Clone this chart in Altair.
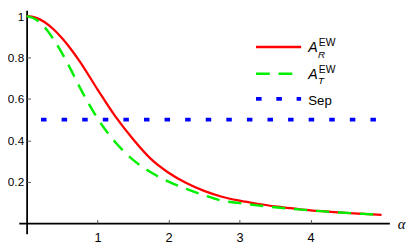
import altair as alt
import pandas as pd

# ---- data ----
alpha = [0, 0.125, 0.25, 0.375, 0.5, 0.625, 0.75, 1.0, 1.25, 1.5, 1.75, 2.0, 2.25, 2.5,
         2.75, 3.0, 3.25, 3.5, 3.75, 4.0, 4.25, 4.5, 4.75, 5.0]
a_r = [1.0, 0.993, 0.972, 0.938, 0.893, 0.84, 0.78, 0.645, 0.515, 0.405, 0.31, 0.243,
       0.193, 0.155, 0.127, 0.108, 0.093, 0.080, 0.0705, 0.061, 0.055, 0.049, 0.044, 0.039]
a_t = [1.0, 0.985, 0.948, 0.89, 0.82, 0.74, 0.655, 0.505, 0.39, 0.305, 0.245, 0.2,
       0.165, 0.134, 0.108, 0.096, 0.085, 0.076, 0.068, 0.061, 0.054, 0.049, 0.044, 0.039]
sep_alpha = [0, 5]
sep_value = [0.5, 0.5]

x_ticks = [1, 2, 3, 4]
y_ticks = [0.2, 0.4, 0.6, 0.8, 1.0]

df_r = pd.DataFrame({"alpha": alpha, "v": a_r})
df_t = pd.DataFrame({"alpha": alpha, "v": a_t})
df_s = pd.DataFrame({"alpha": sep_alpha, "v": sep_value})
one = pd.DataFrame({"k": [0]})

RED, GREEN, BLUE = "#ff0000", "#00f000", "#0000ff"
SANS = "Liberation Sans"

x_scale = alt.Scale(domain=[-0.1105, 5.110], nice=False, zero=False)
y_scale = alt.Scale(domain=[-0.0526, 1.028], nice=False, zero=False)

x_main = alt.Axis(orient="bottom", offset=-11, values=x_ticks, grid=False, ticks=False,
                  domainColor="black", domainWidth=1.8, labelFontSize=13, labelFont=SANS,
                  labelColor="black", labelPadding=9,
                  title="α", titleFont="Liberation Serif", titleFontStyle="italic",
                  titleFontWeight="normal", titleFontSize=15, titleColor="black",
                  titleX=386, titleY=1, titleAlign="left", titleBaseline="middle")
y_main = alt.Axis(orient="left", offset=-8, values=y_ticks, format=".1~f", grid=False,
                  ticks=False, domainColor="black", domainWidth=1.8, labelFontSize=12,
                  labelFont=SANS, labelColor="black", labelPadding=3, title=None)
x_tick = alt.Axis(orient="top", offset=-216.9, values=x_ticks, grid=False, domain=False,
                  labels=False, ticks=True, tickSize=3.5, tickColor="#555555",
                  tickWidth=1, title=None)
y_tick = alt.Axis(orient="right", offset=-370, values=y_ticks, grid=False, domain=False,
                  labels=False, ticks=True, tickSize=4, tickColor="#555555",
                  tickWidth=1, title=None)

red = alt.Chart(df_r).mark_line(color=RED, strokeWidth=2.3, interpolate="monotone").encode(
    x=alt.X("alpha:Q", scale=x_scale, axis=x_main),
    y=alt.Y("v:Q", scale=y_scale, axis=y_main),
)
green = alt.Chart(df_t).mark_line(color=GREEN, strokeWidth=2.5, strokeDash=[13.5, 9],
                                  interpolate="monotone").encode(
    x=alt.X("alpha:Q", scale=x_scale, axis=None),
    y=alt.Y("v:Q", scale=y_scale, axis=None),
)
sep = alt.Chart(df_s).mark_line(color=BLUE, strokeWidth=3.8, strokeDash=[5.6, 15.4],
                                strokeDashOffset=6.3).encode(
    x=alt.X("alpha:Q", scale=x_scale, axis=x_tick),
    y=alt.Y("v:Q", scale=y_scale, axis=y_tick),
)

# ---- legend (decoration, in pixel layout) ----
LX0, LX1, TX = 242, 288, 295.3


def leg_line(y, color, width, dash=None):
    kw = dict(color=color, strokeWidth=width)
    if dash:
        kw["strokeDash"] = dash
    return alt.Chart(one).mark_rule(**kw).encode(
        x=alt.value(LX0), x2=alt.value(LX1), y=alt.value(y))


def leg_text(txt, x, y, size, italic=False):
    kw = dict(text=txt, font=SANS, fontSize=size, align="left", baseline="alphabetic",
              color="black")
    if italic:
        kw["fontStyle"] = "italic"
    return alt.Chart(one).mark_text(**kw).encode(x=alt.value(x), y=alt.value(y))


legend_layers = []
for ly, sub, color, width, dash in [(37.3, "R", RED, 2.6, None), (64.7, "T", GREEN, 2.6, [14, 9])]:
    legend_layers += [
        leg_line(ly, color, width, dash),
        leg_text("A", TX, ly + 5.2, 14.5, italic=True),
        leg_text(sub, TX + 10, ly + 10.8, 10, italic=True),
        leg_text("EW", TX + 10.7, ly - 0.8, 10.5),
    ]
legend_layers += [
    leg_line(90.3, BLUE, 3.8, [5.7, 15]),
    leg_text("Sep", TX, 90.3 + 5.9, 13.5),
]

chart = alt.layer(red, green, sep, *legend_layers).resolve_axis(
    x="independent", y="independent"
).properties(
    width=378, height=228,
    autosize=alt.AutoSizeParams(type="none"),
    padding={"left": 11, "top": 0, "right": 18, "bottom": 11},
    background="white",
).configure_view(stroke=None)

chart.save("out.html", embed_options={"renderer": "svg", "actions": False})
